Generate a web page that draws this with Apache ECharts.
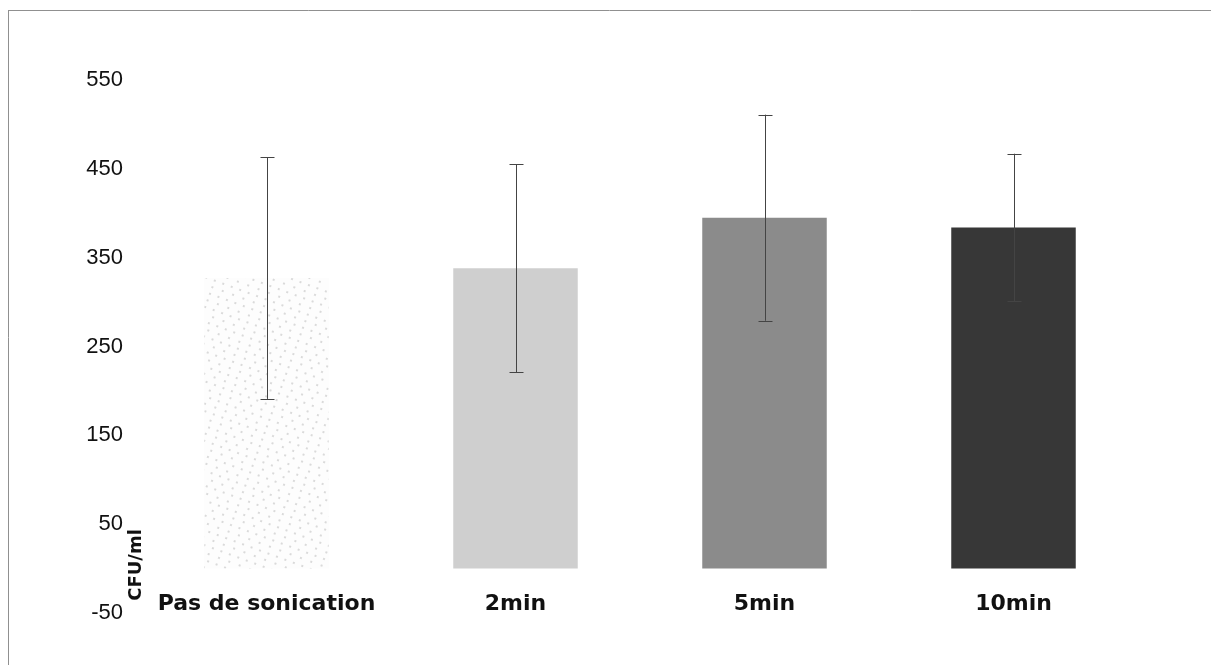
<!DOCTYPE html>
<html>
<head>
<meta charset="utf-8">
<script src="https://cdn.jsdelivr.net/npm/echarts@6/dist/echarts.min.js"></script>
<style>
  html, body { margin: 0; padding: 0; background: #fff; }
  #chart { width: 1211px; height: 665px; }
</style>
</head>
<body>
<div id="chart"></div>
<script>
// Sonication duration groups
const categories = ['Pas de sonication', '2min', '5min', '10min'];
// Mean colony counts (CFU/ml)
const means = [327, 338, 395, 384];
// Error bar half-widths (CFU/ml)
const errors = [136, 117, 116, 83];
// Y-axis ticks
const yTicks = [-50, 50, 150, 250, 350, 450, 550];

const barFills = [
  { color: '#fdfdfd', decal: { symbol: 'rect', symbolSize: 0.5, dashArrayX: [[2, 7], [2, 9]], dashArrayY: [2, 5], color: 'rgba(70,70,70,0.75)', rotation: 0.35 } },
  { color: '#cfcfcf' },
  { color: '#8b8b8b' },
  { color: '#373737' }
];

const chart = echarts.init(document.getElementById('chart'), null, { renderer: 'canvas' });

chart.setOption({
  animation: false,
  backgroundColor: '#ffffff',
  grid: { left: 142, right: 73, top: 80, bottom: 52, containLabel: false },
  xAxis: {
    type: 'category',
    data: categories,
    axisLine: { show: false, onZero: false },
    axisTick: { show: false },
    axisLabel: {
      interval: 0,
      hideOverlap: false,
      margin: -9,
      verticalAlign: 'middle',
      fontFamily: 'DejaVu Sans, sans-serif',
      fontWeight: 'bold',
      fontSize: 22,
      color: '#111'
    },
    splitLine: { show: false }
  },
  yAxis: {
    type: 'value',
    min: yTicks[0],
    max: yTicks[yTicks.length - 1],
    interval: 100,
    axisLine: { show: false },
    axisTick: { show: false },
    splitLine: { show: false },
    axisLabel: {
      margin: 19,
      fontFamily: 'Liberation Sans, Arial, sans-serif',
      fontSize: 22,
      color: '#111'
    }
  },
  graphic: [
    { type: 'line', shape: { x1: 8, y1: 10.5, x2: 1211, y2: 10.5 }, style: { stroke: '#909090', lineWidth: 1 }, silent: true },
    { type: 'line', shape: { x1: 8.5, y1: 10, x2: 8.5, y2: 665 }, style: { stroke: '#909090', lineWidth: 1 }, silent: true },
    {
      type: 'text', x: 136, y: 565, rotation: Math.PI / 2,
      style: { text: 'CFU/ml', fontFamily: 'DejaVu Sans, sans-serif', fontWeight: 'bold', fontSize: 18, fill: '#111', align: 'center', verticalAlign: 'middle' },
      silent: true
    }
  ],
  series: [
    {
      type: 'bar',
      barWidth: '50%',
      data: means.map((v, i) => ({ value: v, itemStyle: barFills[i] })),
      z: 2
    },
    {
      type: 'custom',
      z: 5,
      data: means.map((v, i) => [i, v - errors[i], v + errors[i]]),
      renderItem: function (params, api) {
        const lo = api.coord([api.value(0), api.value(1)]);
        const hi = api.coord([api.value(0), api.value(2)]);
        const x = Math.round(lo[0]) + 0.5;
        const cap = 7;
        const style = { stroke: '#444', lineWidth: 1 };
        return {
          type: 'group',
          children: [
            { type: 'line', shape: { x1: x, y1: hi[1], x2: x, y2: lo[1] }, style: style },
            { type: 'line', shape: { x1: x - cap, y1: Math.round(hi[1]) + 0.5, x2: x + cap, y2: Math.round(hi[1]) + 0.5 }, style: style },
            { type: 'line', shape: { x1: x - cap, y1: Math.round(lo[1]) + 0.5, x2: x + cap, y2: Math.round(lo[1]) + 0.5 }, style: style }
          ]
        };
      }
    }
  ]
});
</script>
</body>
</html>
